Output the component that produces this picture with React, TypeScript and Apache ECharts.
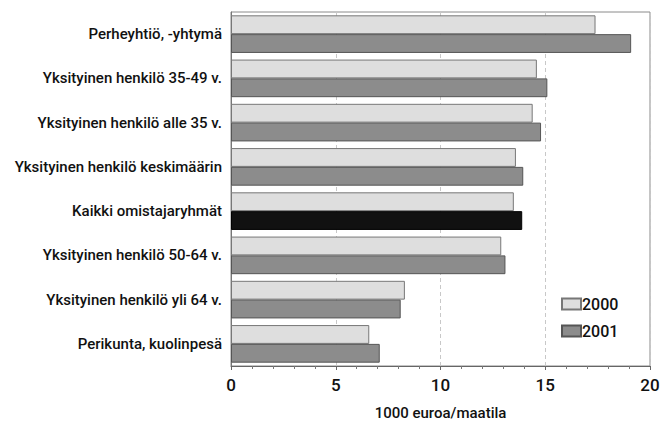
import React, { useEffect, useRef } from "react";
import * as echarts from "echarts";

const categories = [
  "Perheyhtiö, -yhtymä",
  "Yksityinen henkilö 35-49 v.",
  "Yksityinen henkilö alle 35 v.",
  "Yksityinen henkilö keskimäärin",
  "Kaikki omistajaryhmät",
  "Yksityinen henkilö 50-64 v.",
  "Yksityinen henkilö yli 64 v.",
  "Perikunta, kuolinpesä",
];
const values2000 = [17.4, 14.6, 14.4, 13.6, 13.5, 12.9, 8.3, 6.6];
const values2001 = [19.1, 15.1, 14.8, 13.95, 13.9, 13.1, 8.1, 7.1];
const highlightCategory = "Kaikki omistajaryhmät";
const xTicks = [0, 5, 10, 15, 20];

const FONT = "Roboto, 'Liberation Sans', Arial, sans-serif";

export default function App() {
  const ref = useRef<HTMLDivElement>(null);
  useEffect(() => {
    if (!ref.current) return;
    const chart = echarts.init(ref.current, undefined, { renderer: "svg" });
    chart.setOption({
      animation: false,
      backgroundColor: "#ffffff",
      textStyle: { fontFamily: FONT },
      grid: {
        left: 231,
        right: 20,
        top: 12,
        bottom: 59,
        show: true,
        borderColor: "#8a8a8a",
        borderWidth: 1,
        backgroundColor: "transparent",
      },
      legend: {
        orient: "vertical",
        left: 556,
        top: 291,
        icon: "rect",
        itemWidth: 19,
        itemHeight: 11,
        itemGap: 11,
        textStyle: { fontSize: 16, fontWeight: 500, color: "#111", fontFamily: FONT, padding: [0, 0, 0, -4] },
        data: ["2000", "2001"],
      },
      xAxis: {
        type: "value",
        min: xTicks[0],
        max: xTicks[xTicks.length - 1],
        interval: 5,
        name: "1000 euroa/maatila",
        nameLocation: "middle",
        nameGap: 39,
        nameTextStyle: { fontSize: 15, fontWeight: 500, color: "#111", fontFamily: FONT },
        axisLine: { show: true, lineStyle: { color: "#666", width: 1 } },
        axisTick: { show: true, length: 4, lineStyle: { color: "#666" } },
        minorTick: { show: true, splitNumber: 5, length: 3, lineStyle: { color: "#777" } },
        axisLabel: { fontSize: 17, fontWeight: 500, color: "#111", margin: 10, fontFamily: FONT },
        splitLine: { show: true, lineStyle: { color: "#c8c8c8", type: [4, 3], width: 1 } },
      },
      yAxis: {
        type: "category",
        data: categories,
        inverse: true,
        axisLine: { show: true, lineStyle: { color: "#777" } },
        axisTick: { show: false },
        axisLabel: { fontSize: 15, fontWeight: 500, color: "#111", margin: 9, fontFamily: FONT },
        splitLine: { show: false },
      },
      series: [
        {
          name: "2000",
          type: "bar",
          data: values2000,
          barGap: "0%",
          barCategoryGap: "15%",
          itemStyle: { color: "#dedede", borderColor: "#777", borderWidth: 1 },
        },
        {
          name: "2001",
          type: "bar",
          data: values2001.map((v, i) =>
            categories[i] === highlightCategory
              ? { value: v, itemStyle: { color: "#111111", borderColor: "#000" } }
              : v
          ),
          itemStyle: { color: "#8c8c8c", borderColor: "#555", borderWidth: 1 },
        },
      ],
    });
    return () => chart.dispose();
  }, []);
  return <div ref={ref} style={{ width: 670, height: 425, position: "absolute", left: 0, top: 0 }} />;
}
